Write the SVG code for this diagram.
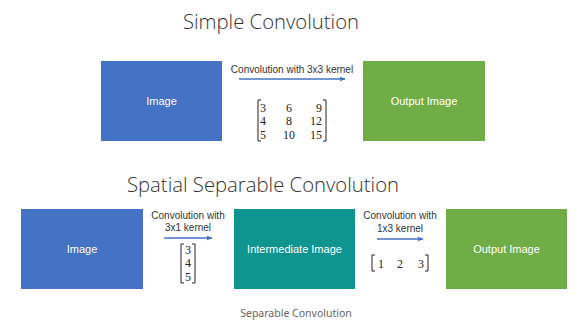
<svg xmlns="http://www.w3.org/2000/svg" width="582" height="327" viewBox="0 0 582 327">
<defs>
<marker id="ah" viewBox="0 0 10 10" refX="9" refY="5" markerWidth="6" markerHeight="6" orient="auto" markerUnits="userSpaceOnUse"><path d="M0,1 L10,5 L0,9 z" fill="#4472C4"/></marker>
</defs>
<style>
.title{font-family:"Open Sans","Liberation Sans",sans-serif;font-weight:300;fill:#333;text-anchor:middle}
.box{font-family:"Liberation Sans",sans-serif;font-size:11px;fill:#fff;text-anchor:middle;dominant-baseline:central}
.lbl{font-family:"Liberation Sans",sans-serif;font-size:10px;fill:#333;text-anchor:middle}
.m{font-family:"Liberation Serif",serif;font-size:12px;fill:#222}
.br{fill:none;stroke:#222;stroke-width:1}
.conn{stroke:#4472C4;stroke-width:1.5;fill:none;marker-end:url(#ah)}
.cap{font-family:"Noto Sans","Liberation Sans",sans-serif;font-size:10.5px;fill:#666;text-anchor:middle}
</style>
<rect width="582" height="327" fill="#fff"/>
<text class="title" x="271" y="29" font-size="20.3">Simple Convolution</text>
<text class="title" x="263" y="192" font-size="20.3">Spatial Separable Convolution</text>

<g id="img1"><rect x="101" y="61" width="121" height="80" fill="#4472C4"/><text class="box" x="161.5" y="101">Image</text></g>
<g id="out1"><rect x="363" y="61" width="122" height="80" fill="#70AD47"/><text class="box" x="424" y="101">Output Image</text></g>
<g id="img2"><rect x="21" y="209" width="122" height="80" fill="#4472C4"/><text class="box" x="82" y="249">Image</text></g>
<g id="mid2"><rect x="234" y="209" width="121" height="80" fill="#0F9490"/><text class="box" x="294.5" y="249">Intermediate Image</text></g>
<g id="out2"><rect x="446" y="209" width="121" height="80" fill="#70AD47"/><text class="box" x="506.5" y="249">Output Image</text></g>

<g id="connectors">
<line class="conn" x1="239" y1="79" x2="345" y2="79"/>
<line class="conn" x1="164" y1="238" x2="212" y2="238"/>
<line class="conn" x1="377" y1="239" x2="423" y2="239"/>
</g>

<text class="lbl" x="292" y="73">Convolution with 3x3 kernel</text>
<text class="lbl" x="188" y="219">Convolution with</text>
<text class="lbl" x="188" y="231">3x1 kernel</text>
<text class="lbl" x="400" y="219">Convolution with</text>
<text class="lbl" x="400" y="232">1x3 kernel</text>

<g id="k33">
<path class="br" d="M261,100 H258 V141 H261"/>
<path class="br" d="M323,100 H326 V141 H323"/>
<text class="m" x="260" y="112">3</text><text class="m" x="260" y="125">4</text><text class="m" x="260" y="139">5</text>
<text class="m" x="289" y="112" text-anchor="middle">6</text><text class="m" x="289" y="125" text-anchor="middle">8</text><text class="m" x="289" y="139" text-anchor="middle">10</text>
<text class="m" x="322" y="112" text-anchor="end">9</text><text class="m" x="322" y="125" text-anchor="end">12</text><text class="m" x="322" y="139" text-anchor="end">15</text>
</g>
<g id="k31">
<path class="br" d="M184,244 H181 V283 H184"/>
<path class="br" d="M192,244 H195 V283 H192"/>
<text class="m" x="188" y="254" text-anchor="middle">3</text><text class="m" x="188" y="267" text-anchor="middle">4</text><text class="m" x="188" y="281" text-anchor="middle">5</text>
</g>
<g id="k13">
<path class="br" d="M375,255 H372 V271 H375"/>
<path class="br" d="M425,255 H428 V271 H425"/>
<text class="m" x="381" y="268" text-anchor="middle">1</text><text class="m" x="400" y="268" text-anchor="middle">2</text><text class="m" x="421" y="268" text-anchor="middle">3</text>
</g>

<text class="cap" x="296" y="317">Separable Convolution</text>
</svg>
